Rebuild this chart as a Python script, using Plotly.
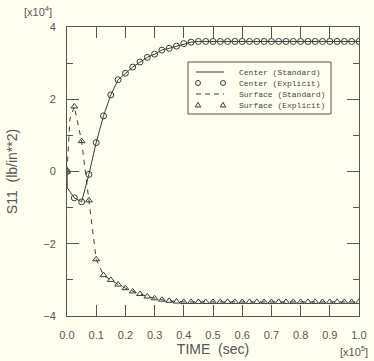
import plotly.graph_objects as go

# time in units of 1e5 s, stress in units of 1e4 lb/in^2
time_explicit = [0.0, 0.025, 0.05, 0.075, 0.1, 0.125, 0.15, 0.175, 0.2, 0.225,
                 0.25, 0.275, 0.3, 0.325, 0.35, 0.375, 0.4, 0.425, 0.45, 0.475,
                 0.5, 0.525, 0.55, 0.575, 0.6, 0.625, 0.65, 0.675, 0.7, 0.725,
                 0.75, 0.775, 0.8, 0.825, 0.85, 0.875, 0.9, 0.925, 0.95, 0.975, 1.0]
center_explicit = [0.0, -0.73, -0.84, -0.08, 0.80, 1.54, 2.12, 2.54, 2.72, 2.89,
                   3.03, 3.16, 3.25, 3.36, 3.41, 3.47, 3.54, 3.58, 3.60, 3.60,
                   3.60, 3.60, 3.60, 3.60, 3.60, 3.60, 3.60, 3.60, 3.60, 3.60,
                   3.60, 3.60, 3.60, 3.60, 3.60, 3.60, 3.60, 3.60, 3.60, 3.60, 3.60]
surface_explicit = [0.0, 1.80, 0.84, -0.80, -2.43, -2.87, -3.00, -3.13, -3.23, -3.32,
                    -3.39, -3.46, -3.51, -3.55, -3.58, -3.60, -3.61, -3.61, -3.61, -3.61,
                    -3.61, -3.61, -3.61, -3.61, -3.61, -3.61, -3.61, -3.61, -3.61, -3.61,
                    -3.61, -3.61, -3.61, -3.61, -3.61, -3.61, -3.61, -3.61, -3.61, -3.61, -3.61]

time_center_std = [0.0, 0.001] + time_explicit[1:]
center_standard = [0.0, -0.45] + center_explicit[1:]
time_surface_std = [0.0, 0.01] + time_explicit[1:]
surface_standard = [0.0, 1.45] + surface_explicit[1:]

x_ticks = [0.0, 0.1, 0.2, 0.3, 0.4, 0.5, 0.6, 0.7, 0.8, 0.9, 1.0]
x_labels = ["0.0", "0.1", "0.2", "0.3", "0.4", "0.5", "0.6", "0.7", "0.8", "0.9", "1.0"]

legend_names = ["Center (Standard)", "Center (Explicit)", "Surface (Standard)", "Surface (Explicit)"]

ink = "#3a3a3a"
axc = "#555"
W, H = 374, 361
ML, MR, MT, MB = 67, 15, 27, 45
PW, PH = W - ML - MR, H - MT - MB


def px(x):
    return (x - ML) / PW


def py(y):
    return (H - MB - y) / PH


fig = go.Figure()
fig.add_trace(go.Scatter(x=time_center_std, y=center_standard, mode="lines",
                         name=legend_names[0], line=dict(color=ink, width=1)))
fig.add_trace(go.Scatter(x=time_explicit, y=center_explicit, mode="markers",
                         name=legend_names[1],
                         marker=dict(symbol="circle-open", size=6, color=ink, line=dict(width=1))))
fig.add_trace(go.Scatter(x=time_surface_std, y=surface_standard, mode="lines",
                         name=legend_names[2], line=dict(color=ink, width=1, dash="5px,5px")))
fig.add_trace(go.Scatter(x=time_explicit, y=surface_explicit, mode="markers",
                         name=legend_names[3],
                         marker=dict(symbol="triangle-up-open", size=6, color=ink, line=dict(width=1))))

bg = "#FFFFF0"
fig.update_layout(
    width=W, height=H,
    margin=dict(l=ML, r=MR, t=MT, b=MB),
    paper_bgcolor=bg, plot_bgcolor=bg,
    font=dict(family="Liberation Sans, Arial, sans-serif", color="#444", size=11),
    showlegend=False,
    xaxis=dict(range=[0, 1.0], tickvals=x_ticks, ticktext=x_labels, automargin=False,
               ticks="inside", ticklen=11, tickcolor=axc, tickwidth=1,
               showline=True, linecolor=axc, linewidth=1, mirror="ticks",
               showgrid=False, zeroline=False, ticklabelstandoff=9,
               tickfont=dict(size=11, color=axc),
               title=dict(text="TIME  (sec)", font=dict(size=14, color=axc), standoff=2)),
    yaxis=dict(range=[-4, 4], dtick=2, tick0=0, automargin=False,
               ticks="inside", ticklen=12, tickcolor=axc, tickwidth=1,
               minor=dict(dtick=1, ticks="inside", ticklen=6, tickcolor=axc),
               showline=True, linecolor=axc, linewidth=1, mirror="ticks",
               showgrid=False, zeroline=False, ticklabelstandoff=8,
               tickfont=dict(size=11, color=axc),
               title=dict(text="S11  (lb/in**2)", font=dict(size=14, color=axc), standoff=22)),
)
fig.add_annotation(text="[x10<sup>4</sup>]", xref="paper", yref="paper", x=px(38), y=py(11),
                   xanchor="center", yanchor="middle", showarrow=False,
                   font=dict(size=11, color=axc))
fig.add_annotation(text="[x10<sup>5</sup>]", xref="paper", yref="paper", x=px(354), y=py(351),
                   xanchor="center", yanchor="middle", showarrow=False,
                   font=dict(size=11, color=axc))

# legend box drawn by hand (compact, like the original)
fig.add_shape(type="rect", xref="paper", yref="paper", x0=px(188), x1=px(331), y0=py(114), y1=py(62),
              line=dict(color=axc, width=1), fillcolor=bg)
rows = [72, 83, 94, 105]
fig.add_shape(type="line", xref="paper", yref="paper", x0=px(196), x1=px(224), y0=py(rows[0]), y1=py(rows[0]),
              line=dict(color=ink, width=1))
fig.add_shape(type="line", xref="paper", yref="paper", x0=px(196), x1=px(224), y0=py(rows[2]), y1=py(rows[2]),
              line=dict(color=ink, width=1, dash="5px,4px"))
for cx in (198, 223):
    fig.add_shape(type="circle", xref="paper", yref="paper", x0=px(cx - 2.5), x1=px(cx + 2.5),
                  y0=py(rows[1] + 2.5), y1=py(rows[1] - 2.5), line=dict(color=ink, width=1))
    fig.add_shape(type="path", xref="paper", yref="paper",
                  path="M {} {} L {} {} L {} {} Z".format(px(cx - 2.7), py(rows[3] + 2), px(cx + 2.7), py(rows[3] + 2),
                                                          px(cx), py(rows[3] - 2.7)),
                  line=dict(color=ink, width=1))
for r, name in zip(rows, legend_names):
    fig.add_annotation(text=name, xref="paper", yref="paper", x=px(237), y=py(r),
                       xanchor="left", yanchor="middle", showarrow=False,
                       font=dict(family="Liberation Mono, Courier New, monospace", size=8, color="#444"))

fig.write_html("out.html", config={"displayModeBar": False},
               post_script="document.body.style.margin='0px';document.body.style.background='" + bg + "';")
